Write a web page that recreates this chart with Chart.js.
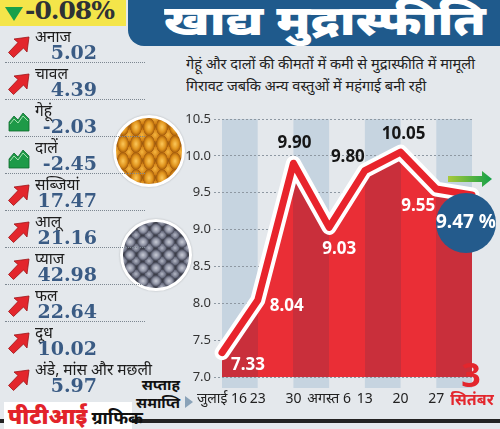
<!DOCTYPE html>
<html>
<head>
<meta charset="utf-8">
<script src="https://cdn.jsdelivr.net/npm/chart.js@4.4.1/dist/chart.umd.min.js"></script>
<style>
  html, body { margin: 0; padding: 0; }
  body { width: 500px; height: 429px; position: relative; overflow: hidden; background: #e4e8ec; font-family: "Noto Sans", sans-serif; }
  .abs { position: absolute; }
  #top-box { left: 0; top: 0; width: 126px; height: 26px; background: #f4e54a; }
  #top-box span { position: absolute; top: -4px; left: 25px; font: bold 25px "DejaVu Serif", serif; color: #2e3236; letter-spacing: -1px; }
  #top-box i { position: absolute; left: 5px; top: 7px; width: 0; height: 0; border-left: 9px solid transparent; border-right: 9px solid transparent; border-top: 14px solid #16a04a; }
  #banner { left: 128px; top: 0; width: 372px; height: 46px; background: #1f5a8c; border-bottom-left-radius: 16px; }
  #banner h1 { margin: 0; position: absolute; left: 36px; top: -9px; font-size: 41px; font-weight: 900; color: #fff; white-space: nowrap; transform: scaleX(1.22); transform-origin: left center; }
  #sub { left: 186px; top: 52px; font-size: 15px; line-height: 22px; color: #222; white-space: nowrap; transform: scaleX(0.97); transform-origin: left center; }
  .lbl { left: 35px; font-size: 15.5px; color: #1d1d1d; white-space: nowrap; line-height: 16px; }
  .val { left: 30px; width: 67px; text-align: right; font: bold 19px "DejaVu Serif", serif; color: #3a5b84; line-height: 18px; }
  .sep { left: 5px; width: 140px; height: 0; border-top: 1px dotted #7d8791; }
  .ico { left: 8px; width: 22px; height: 22px; }
  .photo { border-radius: 50%; border: 3px solid #fff; box-shadow: 0 0 2px rgba(0,0,0,0.25); }
  #wheat { left: 113px; top: 115px; width: 66px; height: 66px;
    background: radial-gradient(ellipse 6px 9px at 7px 9px, #fbc75a 0%, #e0931c 60%, #a85f0c 95%, transparent 100%) 0 0 / 13px 17px,
                radial-gradient(ellipse 6px 8px at 7px 9px, #f6b740 0%, #cf7d12 70%, transparent 100%) 6px 8px / 13px 17px,
                #9a5a10; }
  #peas { left: 120px; top: 219px; width: 66px; height: 66px;
    background: radial-gradient(circle 6px at 7px 7px, #c9ccd6 0%, #8f93a4 55%, #4d5060 90%, transparent 100%) 0 0 / 13px 13px,
                radial-gradient(circle 5px at 7px 7px, #b4b8c6 0%, #6c7082 70%, transparent 100%) 6px 6px / 13px 13px,
                #3b3d48; }
  #week-end { left: 118px; top: 375px; width: 62px; text-align: right; font-size: 15px; font-weight: bold; line-height: 18px; color: #111; }
  #week-tri { left: 185px; top: 396px; width: 0; height: 0; border-top: 6px solid transparent; border-bottom: 6px solid transparent; border-left: 8px solid #8aa2b8; }
  #bottom-line { left: 0; top: 419px; width: 500px; height: 4px; background: #222; }
  #credit { left: 4px; top: 402px; width: 128px; height: 27px; background: #fff; white-space: nowrap; line-height: 26px; }
  #credit b { color: #e2232a; font-size: 22px; margin-left: 4px; font-weight: 900; }
  #credit span { color: #111; font-size: 18px; font-weight: bold; }
  #chart { position: absolute; left: 0; top: 0; }
</style>
</head>
<body>
<div id="top-box" class="abs"><i></i><span>-0.08%</span></div>
<div id="banner" class="abs"><h1>खाद्य मुद्रास्फीति</h1></div>
<div id="sub" class="abs">गेहूं और दालों की कीमतों में कमी से मुद्रास्फीति में मामूली<br>गिरावट जबकि अन्य वस्तुओं में महंगाई बनी रही</div>
<div id="wheat" class="abs photo"></div>
<div id="peas" class="abs photo"></div>
<div id="week-end" class="abs">सप्ताह<br>समाप्ति</div>
<div id="week-tri" class="abs"></div>
<div id="bottom-line" class="abs"></div>
<div id="credit" class="abs"><b>पीटीआई</b> <span>ग्राफिक</span></div>
<canvas id="chart" width="500" height="429"></canvas>
<script>
// headline change and the item list on the left
const overallChange = '-0.08%';
const items = ['अनाज', 'चावल', 'गेहूं', 'दालें', 'सब्जियां', 'आलू', 'प्याज', 'फल', 'दूध', 'अंडे, मांस और मछली'];
const itemValues = [5.02, 4.39, -2.03, -2.45, 17.47, 21.16, 42.98, 22.64, 10.02, 5.97];

// weekly food inflation (%)
const weeks = ['जुलाई 16', '23', '30', 'अगस्त 6', '13', '20', '27', '3 सितंबर'];
const inflation = [7.33, 8.04, 9.90, 9.03, 9.80, 10.05, 9.55, 9.47];
const yTicks = [7.0, 7.5, 8.0, 8.5, 9.0, 9.5, 10.0, 10.5];

document.querySelector('#top-box span').textContent = overallChange;

const upIcon = '<svg viewBox="0 0 22 22" width="22" height="22"><polygon points="21,1 19,16 15.5,12 5.5,21.5 0.5,16.5 10,6.5 6,3" fill="#e3262c" stroke="#9e1418" stroke-width="0.8"/></svg>';
const downIcon = '<svg viewBox="0 0 22 22" width="22" height="22"><polygon points="1,21 1,12 6,6 10,10 15,3 21,9 21,21" fill="#1e9a48" stroke="#0d6a2c" stroke-width="0.8"/><polyline points="2,14 6,9 10,13 15,6 20,11" fill="none" stroke="#a8e0b0" stroke-width="1"/></svg>';

items.forEach((name, i) => {
  const top = 43 + i * 37;
  const lbl = document.createElement('div');
  lbl.className = 'abs lbl';
  lbl.style.top = (top - 15) + 'px';
  lbl.textContent = name;
  document.body.appendChild(lbl);
  const val = document.createElement('div');
  val.className = 'abs val';
  val.style.top = top + 'px';
  val.textContent = itemValues[i].toFixed(2);
  document.body.appendChild(val);
  const ico = document.createElement('div');
  ico.className = 'abs ico';
  ico.style.top = (top - 7) + 'px';
  ico.innerHTML = itemValues[i] >= 0 ? upIcon : downIcon;
  document.body.appendChild(ico);
  if (i < 8) {
    const sep = document.createElement('div');
    sep.className = 'abs sep';
    sep.style.top = (top + 19) + 'px';
    document.body.appendChild(sep);
  }
});

const narrow = '"Liberation Sans Narrow", "Noto Sans", sans-serif';

const stripes = {
  id: 'stripes',
  beforeDraw(chart) {
    const { ctx, chartArea: a, scales: { x } } = chart;
    ctx.save();
    ctx.fillStyle = '#c6d4e0';
    for (let i = 0; i < weeks.length - 1; i += 2) {
      const x0 = x.getPixelForValue(i), x1 = x.getPixelForValue(i + 1);
      ctx.fillRect(x0, a.top, x1 - x0, a.bottom - a.top + 11);
    }
    ctx.restore();
  }
};

const valueLabels = {
  id: 'valueLabels',
  afterDatasetsDraw(chart) {
    const { ctx } = chart;
    const pts = chart.getDatasetMeta(0).data;
    const offs = [[26, 12], [29, 6], [1, -20], [10, 22], [-17, -13], [3, -18], [-18, 17]];
    const dark = [false, false, true, false, true, true, false];
    ctx.save();
    ctx.textAlign = 'center';
    ctx.textBaseline = 'middle';
    ctx.font = 'bold 17px ' + narrow;
    offs.forEach((o, i) => {
      ctx.fillStyle = dark[i] ? '#161616' : '#ffffff';
      ctx.fillText(inflation[i].toFixed(2), pts[i].x + o[0], pts[i].y + o[1]);
    });
    // last value in the blue disc
    const last = pts[pts.length - 1];
    const cx = last.x - 6, cy = last.y + 28;
    ctx.fillStyle = '#245b8c';
    ctx.beginPath();
    ctx.arc(cx, cy, 30, 0, Math.PI * 2);
    ctx.fill();
    ctx.fillStyle = '#fff';
    ctx.font = 'bold 19px ' + narrow;
    ctx.fillText(inflation[inflation.length - 1].toFixed(2) + ' %', cx, cy);
    // green arrow
    const ax = last.x - 24, ay = last.y - 16;
    const g = ctx.createLinearGradient(ax, 0, ax + 44, 0);
    g.addColorStop(0, '#a9c93a');
    g.addColorStop(1, '#12a048');
    ctx.fillStyle = g;
    ctx.beginPath();
    ctx.moveTo(ax, ay - 3);
    ctx.lineTo(ax + 34, ay - 3);
    ctx.lineTo(ax + 34, ay - 8);
    ctx.lineTo(ax + 44, ay);
    ctx.lineTo(ax + 34, ay + 8);
    ctx.lineTo(ax + 34, ay + 3);
    ctx.lineTo(ax, ay + 3);
    ctx.closePath();
    ctx.fill();
    ctx.restore();
  },
  afterDraw(chart) {
    const { ctx, chartArea: a, scales: { x } } = chart;
    const day = weeks[weeks.length - 1].split(' ')[0];
    ctx.save();
    ctx.fillStyle = '#e3262d';
    ctx.font = 'bold 34px ' + narrow;
    ctx.textAlign = 'center';
    ctx.textBaseline = 'middle';
    ctx.fillText(day, x.getPixelForValue(weeks.length - 1) - 1, a.bottom);
    ctx.restore();
  }
};

function stripedFill(c) {
  const ch = c.chart, a = ch.chartArea;
  if (!a) return '#d62c35';
  const x = ch.scales.x, w = a.right - a.left;
  const g = ch.ctx.createLinearGradient(a.left, 0, a.right, 0);
  for (let i = 0; i < weeks.length - 1; i++) {
    const col = i % 2 ? '#ea2e36' : '#c92f3b';
    g.addColorStop(Math.max(0, (x.getPixelForValue(i) - a.left) / w), col);
    g.addColorStop(Math.min(1, (x.getPixelForValue(i + 1) - a.left) / w), col);
  }
  return g;
}

const lastIdx = weeks.length - 1;

new Chart(document.getElementById('chart'), {
  type: 'line',
  data: {
    labels: weeks,
    datasets: [
      { data: inflation, borderColor: '#e8242c', borderWidth: 7, pointRadius: 0, fill: false, order: 1, clip: false,
        borderJoinStyle: 'round', borderCapStyle: 'round' },
      { data: inflation, borderColor: '#ffffff', borderWidth: 15, pointRadius: 0, fill: false, order: 2, clip: false,
        borderJoinStyle: 'round', borderCapStyle: 'round' },
      { data: inflation, borderWidth: 0, pointRadius: 0, fill: 'start', backgroundColor: stripedFill, order: 3 }
    ]
  },
  options: {
    responsive: false,
    animation: false,
    devicePixelRatio: 1,
    layout: { padding: { left: 180, top: 119, right: 28, bottom: 20 } },
    plugins: { legend: { display: false }, tooltip: { enabled: false } },
    scales: {
      x: {
        grid: { display: false },
        border: { display: false },
        ticks: {
          autoSkip: false, maxRotation: 0, padding: 6,
          font: c => c.index === lastIdx ? { size: 16, weight: 'bold', family: narrow } : { size: 14, family: narrow },
          color: c => c.index === lastIdx ? '#e3262d' : '#222',
          callback: (v, i) => i === lastIdx ? weeks[i].split(' ').slice(1).join(' ') : weeks[i]
        },
        afterFit: s => { s.height = 32; }
      },
      y: {
        min: yTicks[0], max: yTicks[yTicks.length - 1],
        afterBuildTicks: s => { s.ticks = yTicks.map(v => ({ value: v })); },
        ticks: { padding: 3, font: { size: 13, family: narrow }, color: '#333', callback: v => v.toFixed(1) },
        grid: { color: '#8e98a2', tickLength: 8, tickBorderDash: [2, 2] },
        border: { display: false, dash: [2, 2] },
        afterFit: s => { s.width = 42; }
      }
    }
  },
  plugins: [stripes, valueLabels]
});
</script>
</body>
</html>
